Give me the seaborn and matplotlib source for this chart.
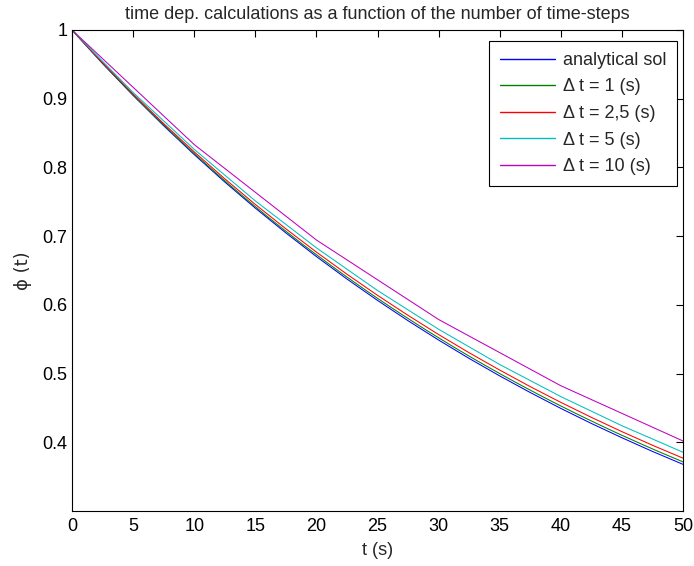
import numpy as np
import pandas as pd
import matplotlib
matplotlib.use("Agg")
import matplotlib.pyplot as plt
import seaborn as sns

# ---- data ----
t_exact = [0, 2.5, 5, 7.5, 10, 12.5, 15, 17.5, 20, 22.5, 25, 27.5, 30, 32.5, 35,
           37.5, 40, 42.5, 45, 47.5, 50]
phi_exact = [1.0, 0.9512, 0.9048, 0.8607, 0.8187, 0.7788, 0.7408, 0.7047, 0.6703,
             0.6376, 0.6065, 0.5769, 0.5488, 0.5220, 0.4966, 0.4724, 0.4493, 0.4274,
             0.4066, 0.3867, 0.3679]

t_dt1 = list(range(0, 51))
phi_dt1 = [1.0, 0.9804, 0.9612, 0.9423, 0.9238, 0.9057, 0.8880, 0.8706, 0.8535, 0.8368,
           0.8203, 0.8043, 0.7885, 0.7730, 0.7579, 0.7430, 0.7284, 0.7142, 0.7002, 0.6864,
           0.6730, 0.6598, 0.6468, 0.6342, 0.6217, 0.6095, 0.5976, 0.5859, 0.5744, 0.5631,
           0.5521, 0.5412, 0.5306, 0.5202, 0.5100, 0.5000, 0.4902, 0.4806, 0.4712, 0.4619,
           0.4529, 0.4440, 0.4353, 0.4268, 0.4184, 0.4102, 0.4022, 0.3943, 0.3865, 0.3790,
           0.3715]

t_dt25 = [0, 2.5, 5, 7.5, 10, 12.5, 15, 17.5, 20, 22.5, 25, 27.5, 30, 32.5, 35,
          37.5, 40, 42.5, 45, 47.5, 50]
phi_dt25 = [1.0, 0.9524, 0.9070, 0.8638, 0.8227, 0.7835, 0.7462, 0.7107, 0.6768, 0.6446,
            0.6139, 0.5847, 0.5568, 0.5303, 0.5051, 0.4810, 0.4581, 0.4363, 0.4155,
            0.3957, 0.3769]

t_dt5 = [0, 5, 10, 15, 20, 25, 30, 35, 40, 45, 50]
phi_dt5 = [1.0, 0.9091, 0.8264, 0.7513, 0.6830, 0.6209, 0.5645, 0.5132, 0.4665, 0.4241, 0.3855]

t_dt10 = [0, 10, 20, 30, 40, 50]
phi_dt10 = [1.0, 0.8333, 0.6944, 0.5787, 0.4823, 0.4019]

labels = ["analytical sol", "Δ t = 1 (s)", "Δ t = 2,5 (s)", "Δ t = 5 (s)", "Δ t = 10 (s)"]
colors = ["#0000ff", "#008000", "#ff0000", "#00bfbf", "#bf00bf"]

x_ticks = [0, 5, 10, 15, 20, 25, 30, 35, 40, 45, 50]
y_ticks = [0.4, 0.5, 0.6, 0.7, 0.8, 0.9, 1.0]
y_ticklabels = ["0.4", "0.5", "0.6", "0.7", "0.8", "0.9", "1"]

sns.set_theme(style="white")
plt.rcParams['font.family'] = ['Liberation Sans', 'DejaVu Sans']

FS = 13
fig = plt.figure(figsize=(6.94, 5.66), dpi=100)
ax = fig.add_axes([72/694, 1 - 511/566, 611/694, 481/566])

series = [(t_exact, phi_exact), (t_dt1, phi_dt1), (t_dt25, phi_dt25),
          (t_dt5, phi_dt5), (t_dt10, phi_dt10)]
for (tx, py), lab, col in zip(series, labels, colors):
    sns.lineplot(x=tx, y=py, ax=ax, color=col, label=lab, linewidth=0.75,
                 estimator=None, sort=False)

ax.set_xlim(0, 50)
ax.set_ylim(0.3, 1.0)
ax.set_xticks(x_ticks)
ax.set_xticklabels([str(v) for v in x_ticks])
ax.set_yticks(y_ticks)
ax.set_yticklabels(y_ticklabels)
ax.tick_params(direction='in', length=5, width=0.8, top=True, right=True,
               labelsize=FS, colors='black')
ax.tick_params(axis='x', pad=5)
ax.tick_params(axis='y', pad=3.5)
for s in ax.spines.values():
    s.set_color('black')
    s.set_linewidth(0.8)

ax.set_xlabel("t (s)", fontsize=FS, labelpad=5)
ax.set_ylabel("ϕ (t)", fontsize=FS, labelpad=7, family=['DejaVu Sans'])
ax.set_title("time dep. calculations as a function of the number of time-steps",
             fontsize=FS, pad=8)

leg = ax.legend(loc='upper right', bbox_to_anchor=(0.990, 0.977), borderaxespad=0,
                fontsize=FS, frameon=True, fancybox=False, framealpha=1,
                edgecolor='black', handlelength=3.05, handletextpad=0.4,
                labelspacing=0.53, borderpad=0.6)
leg.get_frame().set_linewidth(0.8)
for h in leg.get_lines():
    h.set_linewidth(1.0)

fig.savefig("out.png", dpi=100)
